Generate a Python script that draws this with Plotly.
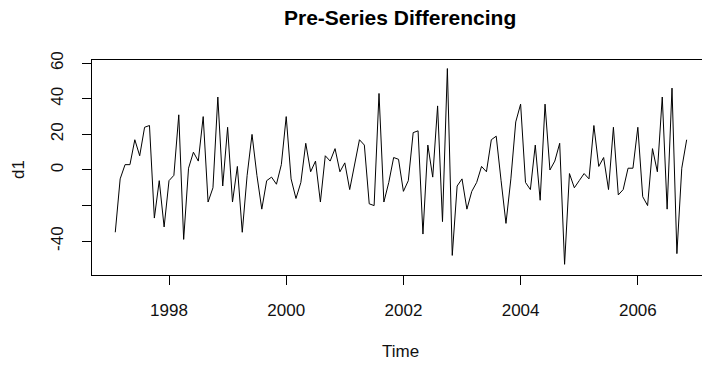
import plotly.graph_objects as go

# Monthly series d1, starting Feb 1997
start_year = 1997
start_month = 2
d1 = [-35, -5, 3, 3, 17, 8, 24, 25, -27, -6,
      -32, -6, -3, 31, -39, 1, 10, 5, 30, -18,
      -10, 41, -9, 24, -18, 2, -35, -3, 20, -3,
      -22, -6, -4, -8, 3, 30, -5, -16, -7, 15,
      -1, 5, -18, 8, 5, 12, -1, 4, -11, 3,
      17, 14, -19, -20, 43, -18, -7, 7, 6, -12,
      -6, 21, 22, -36, 14, -4, 36, -29, 57, -48,
      -9, -5, -22, -12, -7, 2, -1, 17, 19, -6,
      -30, -5, 27, 37, -7, -11, 14, -17, 37, 0,
      5, 15, -53, -2, -10, -6, -2, -5, 25, 2,
      7, -11, 24, -14, -11, 1, 1, 24, -15, -20,
      12, -1, 41, -22, 46, -47, 1, 17]
time = [start_year + (start_month - 1 + i) / 12 for i in range(len(d1))]

x_ticks = [1998, 2000, 2002, 2004, 2006]
x_ticktext = ["1998", "2000", "2002", "2004", "2006"]
y_ticks = [-40, -20, 0, 20, 40, 60]
y_ticktext = ["-40", "", "0", "20", "40", "60"]

title_text = "Pre-Series Differencing"
x_title = "Time"
y_title = "d1"

FONT = "Liberation Sans, Arial, sans-serif"

fig = go.Figure()
fig.add_trace(go.Scatter(x=time, y=d1, mode="lines",
                         line=dict(color="black", width=1),
                         hoverinfo="skip", showlegend=False))

fig.update_layout(
    width=702, height=367,
    margin=dict(l=92, r=0, t=60, b=92),
    paper_bgcolor="white", plot_bgcolor="white",
    font=dict(family=FONT, size=17, color="#111"),
    showlegend=False,
    xaxis=dict(range=[1996.686, 2007.095], tickvals=x_ticks, ticktext=x_ticktext,
               showgrid=False, zeroline=False, showline=True, mirror=True,
               linecolor="black", linewidth=1, ticks="outside", ticklen=9,
               tickcolor="black", tickwidth=1, ticklabelstandoff=11,
               tickfont=dict(size=17, family=FONT, color="#111")),
    yaxis=dict(range=[-59.0, 61.8], tickvals=y_ticks, ticktext=y_ticktext,
               showgrid=False, zeroline=False, showline=True, mirror=False,
               linecolor="black", linewidth=1, ticks="outside", ticklen=9,
               tickcolor="black", tickwidth=1, tickangle=-90, ticklabelstandoff=12,
               tickfont=dict(size=17, family=FONT, color="#111")),
    annotations=[
        dict(text="<b>" + title_text + "</b>", xref="paper", yref="paper",
             x=(400 - 92) / 610, y=(275 - 18) / 215, xanchor="center", yanchor="middle",
             showarrow=False, font=dict(size=21, family=FONT, color="black")),
        dict(text=x_title, xref="paper", yref="paper",
             x=(400 - 92) / 610, y=(275 - 351) / 215, xanchor="center", yanchor="middle",
             showarrow=False, font=dict(size=17, family=FONT, color="#111")),
        dict(text=y_title, xref="paper", yref="paper", textangle=-90,
             x=(18 - 92) / 610, y=(275 - 170) / 215, xanchor="center", yanchor="middle",
             showarrow=False, font=dict(size=17, family=FONT, color="#111")),
    ],
)

fig.write_html("out.html")
